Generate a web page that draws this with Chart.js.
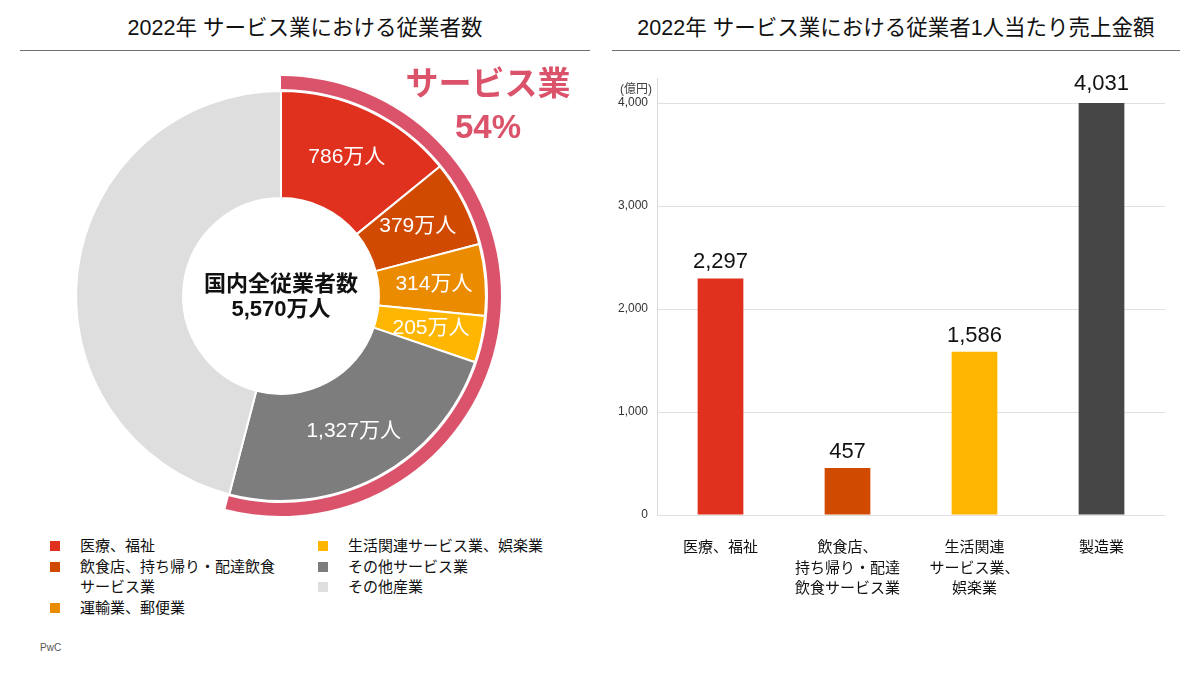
<!DOCTYPE html>
<html><head><meta charset="utf-8">
<script src="https://cdn.jsdelivr.net/npm/chart.js@4.4.1/dist/chart.umd.min.js"></script>
<style>
body{margin:0;background:#fff;}
#wrap{position:relative;width:1200px;height:675px;overflow:hidden;font-family:"Liberation Sans","Noto Sans CJK JP",sans-serif;color:#111;background:#fff;}
.title{position:absolute;top:13px;height:30px;line-height:30px;text-align:center;font-size:21.5px;color:#111;}
.rule{position:absolute;top:50px;height:0;border-top:1.5px solid #6e6e6e;}
#c1wrap{position:absolute;left:0;top:56px;width:600px;height:480px;}
#c2wrap{position:absolute;left:600px;top:56px;width:600px;height:564px;}
#legend{position:absolute;left:48px;top:536px;width:560px;}
.lcol{position:absolute;top:0;width:268px;}
.litem{position:relative;padding-left:32px;font-size:15px;line-height:20.5px;white-space:pre-line;color:#111;}
.lsw{position:absolute;left:2px;top:5px;width:10px;height:10px;}
#pwc{position:absolute;left:40px;top:642px;font-size:10px;color:#555;}
#unit{position:absolute;left:608px;top:79px;width:44px;text-align:right;font-size:12px;color:#444;}
</style></head>
<body>
<div id="wrap">
  <div class="title" style="left:20px;width:570px;">2022年 サービス業における従業者数</div>
  <div class="rule" style="left:20px;width:570px;"></div>
  <div class="title" style="left:612px;width:568px;">2022年 サービス業における従業者1人当たり売上金額</div>
  <div class="rule" style="left:612px;width:568px;"></div>
  <div id="c1wrap"><canvas id="c1"></canvas></div>
  <div id="c2wrap"><canvas id="c2"></canvas></div>
  <div id="legend"></div>
  <div id="unit">(億円)</div>
  <div id="pwc">PwC</div>
</div>
<script>
// ---- Left chart data (万人) ----
const industryLabels = ["医療、福祉", "飲食店、持ち帰り・配達飲食サービス業", "運輸業、郵便業", "生活関連サービス業、娯楽業", "その他サービス業", "その他産業"];
const legendLabels = ["医療、福祉", "飲食店、持ち帰り・配達飲食\nサービス業", "運輸業、郵便業", "生活関連サービス業、娯楽業", "その他サービス業", "その他産業"];
const employeeValues = [786, 379, 314, 205, 1327, 2559];
const serviceFlags = [true, true, true, true, true, false];
const totalEmployees = 5570;
const industryColors = ["#E0301E", "#D04A02", "#EB8C00", "#FFB600", "#7D7D7D", "#DEDEDE"];
const serviceColor = "#DB536A";

// ---- Right chart data (億円) ----
const barLabels = [["医療、福祉"], ["飲食店、", "持ち帰り・配達", "飲食サービス業"], ["生活関連", "サービス業、", "娯楽業"], ["製造業"]];
const salesPerEmployee = [2297, 457, 1586, 4031];
const barColors = ["#E0301E", "#D04A02", "#FFB600", "#464646"];
const yTicks = [0, 1000, 2000, 3000, 4000];

const FONT = '"Liberation Sans","Noto Sans CJK JP",sans-serif';
const fmt = v => v.toLocaleString('en-US');

// legend
(function(){
  const lg = document.getElementById('legend');
  const cols = [[0,1,2],[3,4,5]];
  cols.forEach((idxs, ci) => {
    const col = document.createElement('div');
    col.className = 'lcol';
    col.style.left = (ci * 268) + 'px';
    idxs.forEach(i => {
      const it = document.createElement('div');
      it.className = 'litem';
      const sw = document.createElement('span');
      sw.className = 'lsw';
      sw.style.background = industryColors[i];
      it.appendChild(sw);
      it.appendChild(document.createTextNode(legendLabels[i]));
      col.appendChild(it);
    });
    lg.appendChild(col);
  });
})();

const serviceSum = employeeValues.reduce((s, v, i) => s + (serviceFlags[i] ? v : 0), 0);
const otherSum = employeeValues.reduce((s, v, i) => s + (serviceFlags[i] ? 0 : v), 0);
const servicePct = Math.round(serviceSum / totalEmployees * 100);

const doughnutLabels = {
  id: 'doughnutLabels',
  afterDatasetsDraw(chart) {
    const ctx = chart.ctx;
    const meta = chart.getDatasetMeta(2);
    ctx.save();
    ctx.textAlign = 'center';
    ctx.textBaseline = 'middle';
    ctx.fillStyle = '#ffffff';
    ctx.font = '21px ' + FONT;
    meta.data.forEach((arc, i) => {
      if (!serviceFlags[i]) return;
      const p = arc.getProps(['x','y','startAngle','endAngle','innerRadius','outerRadius'], true);
      const a = (p.startAngle + p.endAngle) / 2;
      const r = (p.innerRadius + p.outerRadius) / 2 + 2;
      ctx.fillText(fmt(employeeValues[i]) + '万人', p.x + Math.cos(a) * r, p.y + Math.sin(a) * r);
    });
    const c = meta.data[0];
    ctx.fillStyle = '#111';
    ctx.font = 'bold 22px ' + FONT;
    ctx.fillText('国内全従業者数', c.x, c.y - 11);
    ctx.fillText(fmt(totalEmployees) + '万人', c.x, c.y + 14);
    ctx.fillStyle = serviceColor;
    ctx.font = 'bold 33px ' + FONT;
    ctx.fillText('サービス業', 488, 86 - 56);
    ctx.fillText(servicePct + '%', 488, 129 - 56);
    ctx.restore();
  }
};

new Chart(document.getElementById('c1'), {
  type: 'doughnut',
  data: {
    labels: industryLabels,
    datasets: [
      { data: [serviceSum, otherSum], backgroundColor: [serviceColor, 'rgba(0,0,0,0)'], borderWidth: 0, weight: 13 },
      { data: [1], backgroundColor: ['rgba(0,0,0,0)'], borderWidth: 0, weight: 2 },
      { data: employeeValues, backgroundColor: industryColors, borderColor: '#ffffff', borderWidth: 2, weight: 107 }
    ]
  },
  options: {
    responsive: true,
    maintainAspectRatio: false,
    animation: false,
    radius: 220,
    cutout: '44.5%',
    hoverOffset: 0,
    layout: { padding: { left: 0, right: 38, top: 0, bottom: 0 } },
    plugins: { legend: { display: false }, tooltip: { enabled: false } }
  },
  plugins: [doughnutLabels]
});

const barExtras = {
  id: 'barExtras',
  afterDatasetsDraw(chart) {
    const ctx = chart.ctx;
    const area = chart.chartArea;
    ctx.save();
    ctx.strokeStyle = '#d9d9d9';
    ctx.lineWidth = 1;
    ctx.beginPath();
    ctx.moveTo(area.left + 0.5, area.top - 25);
    ctx.lineTo(area.left + 0.5, area.bottom);
    ctx.stroke();
    const meta = chart.getDatasetMeta(0);
    ctx.fillStyle = '#111';
    ctx.font = '22px ' + FONT;
    ctx.textAlign = 'center';
    ctx.textBaseline = 'bottom';
    meta.data.forEach((bar, i) => {
      ctx.fillText(fmt(salesPerEmployee[i]), bar.x, bar.y - 5);
    });
    ctx.restore();
  }
};

new Chart(document.getElementById('c2'), {
  type: 'bar',
  data: {
    labels: barLabels,
    datasets: [{ data: salesPerEmployee, backgroundColor: barColors, barPercentage: 0.36, categoryPercentage: 1.0 }]
  },
  options: {
    responsive: true,
    maintainAspectRatio: false,
    animation: false,
    layout: { padding: { left: 0, right: 35, top: 47, bottom: 0 } },
    plugins: { legend: { display: false }, tooltip: { enabled: false } },
    scales: {
      x: {
        grid: { display: false, drawTicks: false },
        border: { display: false },
        ticks: { color: '#111', font: { family: FONT, size: 15, lineHeight: 1.35 }, padding: 23, maxRotation: 0, autoSkip: false },
        afterFit(s) { s.height = 105; }
      },
      y: {
        min: 0, max: 4000,
        afterBuildTicks(s) { s.ticks = yTicks.map(v => ({ value: v })); },
        grid: { color: '#e0e0e0', drawTicks: false, lineWidth: 1 },
        border: { display: false },
        ticks: { color: '#333', font: { family: FONT, size: 12 }, padding: 9, callback: v => fmt(v) },
        afterFit(s) { s.width = 57; }
      }
    }
  },
  plugins: [barExtras]
});
</script>
</body></html>
